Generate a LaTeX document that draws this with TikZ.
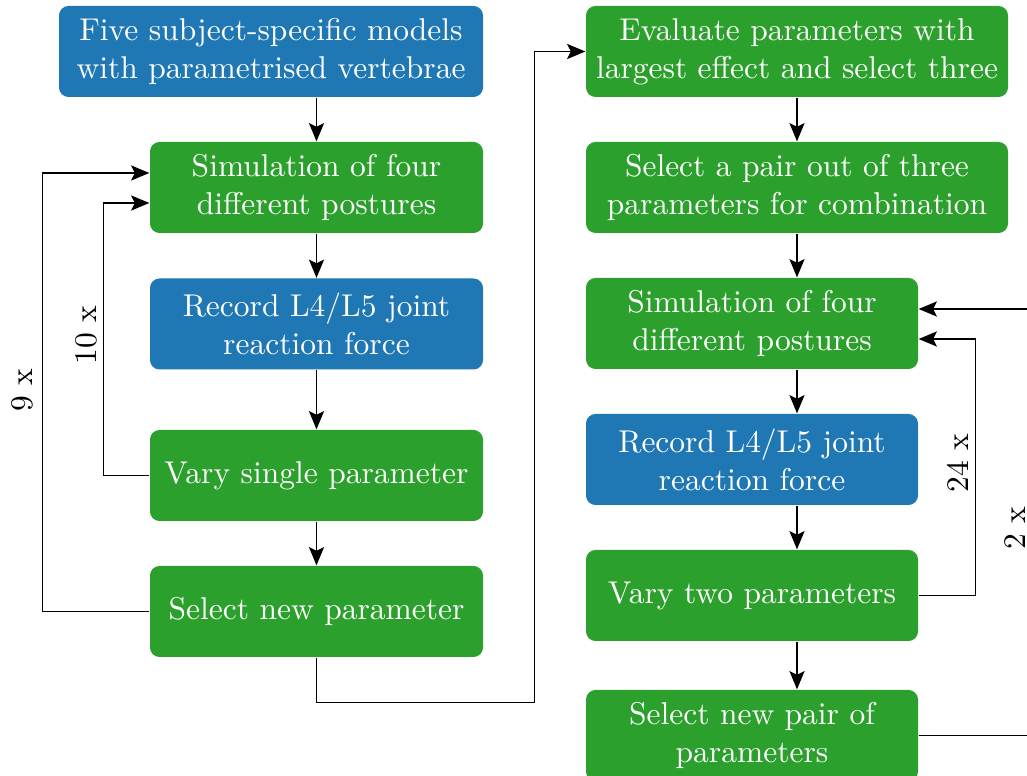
\documentclass[tikz,border=0pt]{standalone}
\usetikzlibrary{arrows.meta,calc}
\newlength\pxu
\setlength\pxu{0.3175pt}
\definecolor{boxblue}{HTML}{1F77B4}
\definecolor{boxgreen}{HTML}{2CA02C}
\begin{document}
\begin{tikzpicture}[x=\pxu,y=-\pxu,
  box/.style={rounded corners=3pt, text=white, align=center, inner sep=0pt,
              minimum height=91\pxu},
  bluebox/.style={box, fill=boxblue},
  greenbox/.style={box, fill=boxgreen},
  flow/.style={-{Stealth[length=5.8pt,width=4.8pt,inset=1.2pt]}, line width=0.45pt},
  lbl/.style={rotate=90, inner sep=0pt}]
\useasboundingbox (0,0) rectangle (1027,776);

% left column
\node[bluebox,  minimum width=424\pxu] (a) at (271,51.5)  {Five subject-specific models\\with parametrised vertebrae};
\node[greenbox, minimum width=333\pxu] (b) at (316.5,187.5) {Simulation of four\\different postures};
\node[bluebox,  minimum width=333\pxu] (c) at (316.5,324)   {Record L4/L5 joint\\reaction force};
\node[greenbox, minimum width=333\pxu] (d) at (316.5,475.5) {Vary single parameter};
\node[greenbox, minimum width=333\pxu] (e) at (316.5,611.5) {Select new parameter};

% right column
\node[greenbox, minimum width=422\pxu] (f) at (797,51.5)  {Evaluate parameters with\\largest effect and select three};
\node[greenbox, minimum width=422\pxu] (g) at (797,187.5) {Select a pair out of three\\parameters for combination};
\node[greenbox, minimum width=332\pxu] (h) at (752,323.5) {Simulation of four\\different postures};
\node[bluebox,  minimum width=332\pxu] (i) at (752,459.5) {Record L4/L5 joint\\reaction force};
\node[greenbox, minimum width=332\pxu] (j) at (752,595.5) {Vary two parameters};
\node[greenbox, minimum width=332\pxu] (k) at (752,735.5) {Select new pair of\\parameters};

% straight flow, left column
\draw[flow] (a.south -| b.north) -- (b.north);
\draw[flow] (b.south) -- (c.north);
\draw[flow] (c.south) -- (d.north);
\draw[flow] (d.south) -- (e.north);

% loops, left column
\draw[flow] (e.west) -- ++(-107,0) |- ($(b.west)+(0,-14.5)$);
\draw[flow] (d.west) -- ++(-46,0) |- ($(b.west)+(0,15.5)$);
\node[lbl] (n9)  at (22,390) {9 x};
\node[lbl] (n10) at (86,335) {10 x};

% hand-over to the right column
\draw[flow] (e.south) -- ++(0,45) -- ++(218,0) |- (f.west);

% straight flow, right column
\draw[flow] (f.south) -- (g.north);
\draw[flow] (g.south) -- (g.south |- h.north);
\draw[flow] (g.south |- h.south) -- (g.south |- i.north);
\draw[flow] (g.south |- i.south) -- (g.south |- j.north);
\draw[flow] (g.south |- j.south) -- (g.south |- k.north);

% loops, right column
\draw[flow] (j.east) -- ++(57,0) |- ($(h.east)+(0,15.5)$);
\draw[flow] (k.east) -- ++(130,0) |- ($(h.east)+(0,-14.5)$);
\node[lbl] (n24) at (958,463) {24 x};
\node[lbl] (n2)  at (1015,528) {2 x};
\end{tikzpicture}
\end{document}
